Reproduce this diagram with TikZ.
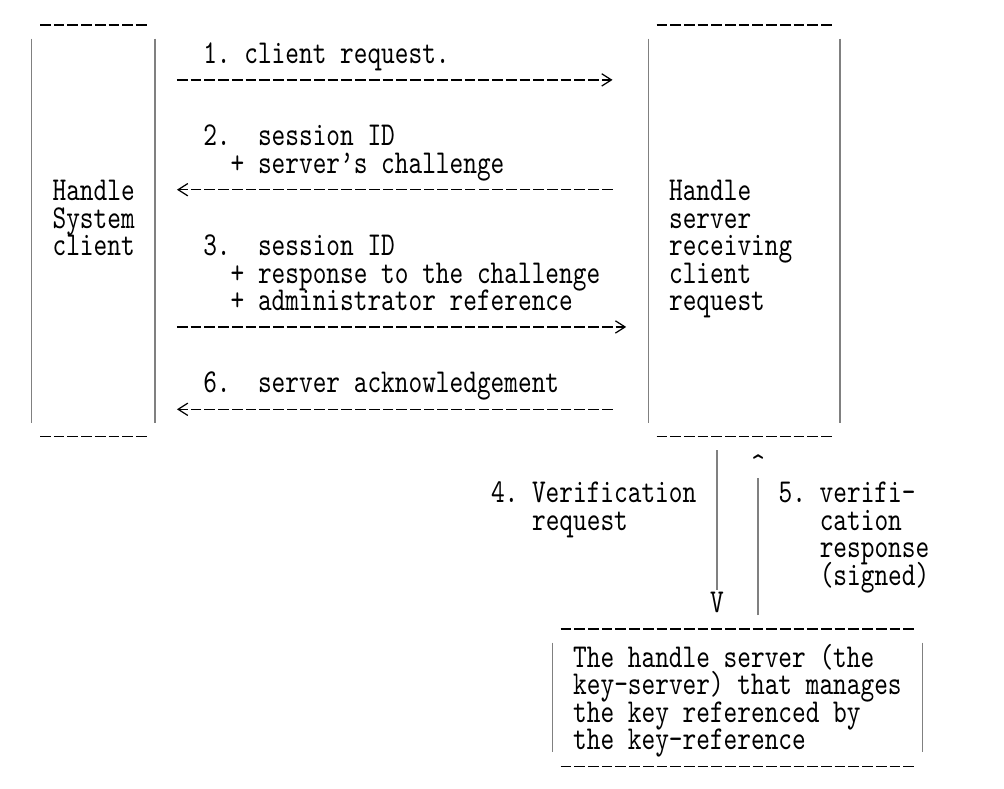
\documentclass[tikz,border=0pt]{standalone}
\usepackage{fontspec}
\usepackage{tikz}
\usetikzlibrary{arrows.meta,calc,fit}
\newfontfamily\rfcfont{lmmono10-regular.otf}[FakeStretch=0.781]
\tikzset{
  ascii/.style={font={\rfcfont\fontsize{19pt}{15.62pt}\selectfont\frenchspacing\lineskiplimit=-50pt},
                inner sep=0pt, anchor=base west, align=left},
  frame/.style={inner sep=0pt, outer sep=0pt},
  dashrow/.style={line width=0.7pt, dash pattern=on 6.09pt off 1.71pt},
  bar/.style={draw=black!50, line width=0.8pt},
  arr/.style={dashrow, -{Straight Barb[length=5.5pt,width=7pt]}},
}
% ascii style frame: dashes on top and bottom, bars on the sides
\newcommand{\asciibox}[1]{%
  \draw[dashrow] ($(#1.north west)+(8.35,0)$) -- ($(#1.north east)+(-8.35,0)$);
  \draw[dashrow] ($(#1.south west)+(8.35,0)$) -- ($(#1.south east)+(-8.35,0)$);
  \draw[bar] ($(#1.north west)+(0,13.7)$) -- ($(#1.south west)+(0,-13.7)$);
  \draw[bar] ($(#1.north east)+(0,13.7)$) -- ($(#1.south east)+(0,-13.7)$);
}
\begin{document}
\begin{tikzpicture}[x=0.02cm, y=-0.02cm]
  \useasboundingbox (0,0) rectangle (1004,788);
  % the three servers
  \node[frame, fit={(31.7,25) (155,436.75)}] (client) {};
  \node[frame, fit={(648.2,25) (840,436.75)}] (hserver) {};
  \node[frame, fit={(552.3,628.9) (922.2,766.15)}] (keyserver) {};
  \foreach \b in {client,hserver,keyserver} {\asciibox{\b}}
  % labels sit on the baseline of their last line
  \node[ascii] (clientlbl) at (52.25,255.6) {Handle\\System\\client};
  \node[ascii] (hserverlbl) at (668.75,310.5) {Handle\\server\\receiving\\client\\request};
  \node[ascii] (keylbl) at (572.85,749.7) {The handle server (the\\key-server) that manages\\the key referenced by\\the key-reference};
  % messages
  \node[ascii] (m1) at (202.95,63.45) {1. client request.};
  \node[ascii] (m2) at (202.95,173.25) {2.~~session ID\\~~+ server’s challenge};
  \node[ascii] (m3) at (202.95,310.5) {3.~~session ID\\~~+ response to the challenge\\~~+ administrator reference};
  \node[ascii] (m6) at (202.95,392.85) {6.~~server acknowledgement};
  \node[ascii] (m4) at (490.65,530.1) {4. Verification\\~~~request};
  \node[ascii] (m5) at (778.35,585.0) {5. verifi-\\~~~cation\\~~~response\\~~~(signed)};
  \node[ascii] (vhead) at (709.85,612.45) {V};
  \node[ascii] (caret) at (750.95,475.2) {\textasciicircum};
  \coordinate (lane1) at (0,79.9);
  \coordinate (lane2) at (0,189.7);
  \coordinate (lane3) at (0,326.95);
  \coordinate (lane6) at (0,409.3);
  \draw[arr, shorten <=12.52pt, shorten >=20.3pt] (client.east |- lane1) -- (hserver.west |- lane1);
  \draw[arr, shorten <=20.3pt, shorten >=12.52pt] (hserver.west |- lane2) -- (client.east |- lane2);
  \draw[arr, shorten <=12.52pt, shorten >=12.52pt] (client.east |- lane3) -- (hserver.west |- lane3);
  \draw[arr, shorten <=20.3pt, shorten >=12.52pt] (hserver.west |- lane6) -- (client.east |- lane6);
  \draw[bar, shorten <=7.8pt, shorten >=1pt] (vhead |- hserver.south) -- (vhead.north);
  \draw[bar, shorten <=7.8pt, shorten >=1.5pt] (caret |- keyserver.north) -- (caret.south);
\end{tikzpicture}
\end{document}
